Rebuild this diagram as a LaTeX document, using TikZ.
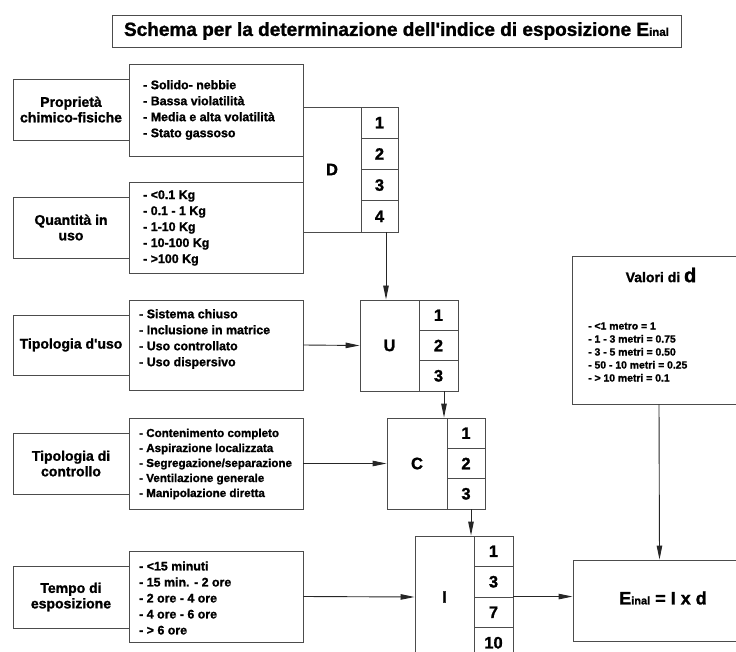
\documentclass[tikz,border=0pt]{standalone}
\usepackage{fontspec}
\setmainfont{Liberation Sans}[BoldFont={Liberation Sans Bold},BoldFeatures={FakeBold=1.3}]
\usetikzlibrary{arrows.meta}

\newcommand{\inal}[1]{{\fontsize{#1}{#1}\selectfont inal}}

\begin{document}
\begin{tikzpicture}[x=1pt,y=-1pt,
    box/.style={shape=rectangle,draw=black!70,line width=0.9pt,inner sep=0pt,align=center,font=\bfseries\fontsize{14}{15.5}\selectfont},
    lst/.style={inner sep=0pt,anchor=west,align=left,font=\bfseries\fontsize{12.4}{16}\selectfont},
    cell/.style={box,minimum width=38pt,font=\bfseries\fontsize{16.5}{18}\selectfont},
    arr/.style={draw=black!85,line width=0.9pt,-{Triangle[length=14pt,width=5.5pt]}}]
    \useasboundingbox (0,0) rectangle (736,652);%

    % titolo
    \node[box,minimum width=569pt,minimum height=32pt,font=\bfseries\fontsize{19}{20}\selectfont] (T) at (396.5,31) {Schema per la determinazione dell\textquotesingle indice di esposizione E\inal{11.5}};%

    % fattori a sinistra
    \node[box,minimum width=116pt,minimum height=61pt] (P) at (71,109.5) {Propriet\`a\\chimico-fisiche};%
    \node[box,minimum width=116pt,minimum height=61pt] (Q) at (71,227.5) {Quantit\`a in\\uso};%
    \node[box,minimum width=116pt,minimum height=60pt] (TU) at (71,345) {Tipologia d\textquotesingle uso};%
    \node[box,minimum width=116pt,minimum height=61pt] (TC) at (71,463.5) {Tipologia di\\controllo};%
    \node[box,minimum width=116pt,minimum height=62pt] (TE) at (71,597) {Tempo di\\esposizione};%

    % elenchi
    \node[box,minimum width=174pt,minimum height=92pt] (LP) at (216,110) {};%
    \node[box,minimum width=174pt,minimum height=91pt] (LQ) at (216,227.5) {};%
    \node[box,minimum width=174pt,minimum height=90pt] (LU) at (216,345) {};%
    \node[box,minimum width=174pt,minimum height=91pt] (LC) at (216,463.5) {};%
    \node[box,minimum width=174pt,minimum height=91pt] (LT) at (216,596.5) {};%
    \node[lst] (TLP) at (143,110) {- Solido- nebbie\\- Bassa violatilit\`a\\- Media e alta volatilit\`a\\- Stato gassoso};%
    \node[lst] (TLQ) at (143,228) {- <0.1 Kg\\- 0.1 - 1 Kg\\- 1-10 Kg\\- 10-100 Kg\\- >100 Kg};%
    \node[lst] (TLU) at (139,339) {- Sistema chiuso\\- Inclusione in matrice\\- Uso controllato\\- Uso dispersivo};%
    \node[lst,font=\bfseries\fontsize{11.6}{15}\selectfont] (TLC) at (139,464) {- Contenimento completo\\- Aspirazione localizzata\\- Segregazione/separazione\\- Ventilazione generale\\- Manipolazione diretta};%
    \node[lst] (TLT) at (139,598) {- <15 minuti\\- 15 min. - 2 ore\\- 2 ore - 4 ore\\- 4 ore - 6 ore\\- > 6 ore};%

    % indici
    \node[box,minimum width=58pt,minimum height=125pt,font=\bfseries\fontsize{16.5}{18}\selectfont] (D) at (332,169.5) {D};%
    \node[cell,minimum width=37pt,minimum height=31.25pt] (D1) at (379.5,122.6) {1};%
    \node[cell,minimum width=37pt,minimum height=31.25pt] (D2) at (379.5,153.9) {2};%
    \node[cell,minimum width=37pt,minimum height=31.25pt] (D3) at (379.5,185.1) {3};%
    \node[cell,minimum width=37pt,minimum height=31.25pt] (D4) at (379.5,216.4) {4};%

    \node[box,minimum width=59pt,minimum height=91pt,font=\bfseries\fontsize{16.5}{18}\selectfont] (U) at (389.5,345.5) {U};%
    \node[cell,minimum width=39pt,minimum height=30.33pt] (U1) at (438.5,315.2) {1};%
    \node[cell,minimum width=39pt,minimum height=30.33pt] (U2) at (438.5,345.5) {2};%
    \node[cell,minimum width=39pt,minimum height=30.33pt] (U3) at (438.5,375.8) {3};%

    \node[box,minimum width=60pt,minimum height=91pt,font=\bfseries\fontsize{16.5}{18}\selectfont] (C) at (417,463.5) {C};%
    \node[cell,minimum width=38pt,minimum height=30.33pt] (C1) at (466,433.2) {1};%
    \node[cell,minimum width=38pt,minimum height=30.33pt] (C2) at (466,463.5) {2};%
    \node[cell,minimum width=38pt,minimum height=30.33pt] (C3) at (466,493.8) {3};%

    \node[box,minimum width=59pt,minimum height=122pt,font=\bfseries\fontsize{16.5}{18}\selectfont] (I) at (444.5,597) {I};%
    \node[cell,minimum width=39pt,minimum height=30.5pt] (I1) at (493.5,551.25) {1};%
    \node[cell,minimum width=39pt,minimum height=30.5pt] (I2) at (493.5,581.75) {3};%
    \node[cell,minimum width=39pt,minimum height=30.5pt] (I3) at (493.5,612.25) {7};%
    \node[cell,minimum width=39pt,minimum height=30.5pt] (I4) at (493.5,642.75) {10};%

    % valori di d e risultato
    \node[box,minimum width=174pt,minimum height=148pt] (V) at (659,330) {};%
    \node[inner sep=0pt,font=\bfseries\fontsize{14}{16}\selectfont] (VT) at (661,275) {Valori di {\fontsize{20}{20}\selectfont d}};%
    \node[lst,font=\bfseries\fontsize{10.4}{13}\selectfont] (VL) at (588,352) {- <1 metro = 1\\- 1 - 3 metri = 0.75\\- 3 - 5 metri = 0.50\\- 50 - 10 metri = 0.25\\- > 10 metri = 0.1};%
    \node[box,minimum width=173pt,minimum height=81pt] (E) at (659.5,600.5) {};%
    \node[inner sep=0pt,font=\bfseries\fontsize{18}{20}\selectfont] (ET) at (663,598) {E\inal{11} = I x d};%

    \draw[arr] ([xshift=6.5pt]D4.south) -- ([xshift=6.5pt]D4.south |- U.north);%
    \draw[arr] (LU.east) -- (U.west);%
    \draw[arr] ([xshift=5.5pt]U3.south) -- ([xshift=5.5pt]U3.south |- C.north);%
    \draw[arr] (LC.east) -- (C.west);%
    \draw[arr] ([xshift=5pt]C3.south) -- ([xshift=5pt]C3.south |- I.north);%
    \draw[arr] (LT.east) -- (I.west);%
    \draw[arr] (I3.north east) -- (I3.north east -| E.west);%
    \draw[arr] (V.south) -- (E.north);%
  \end{tikzpicture}
\end{document}
